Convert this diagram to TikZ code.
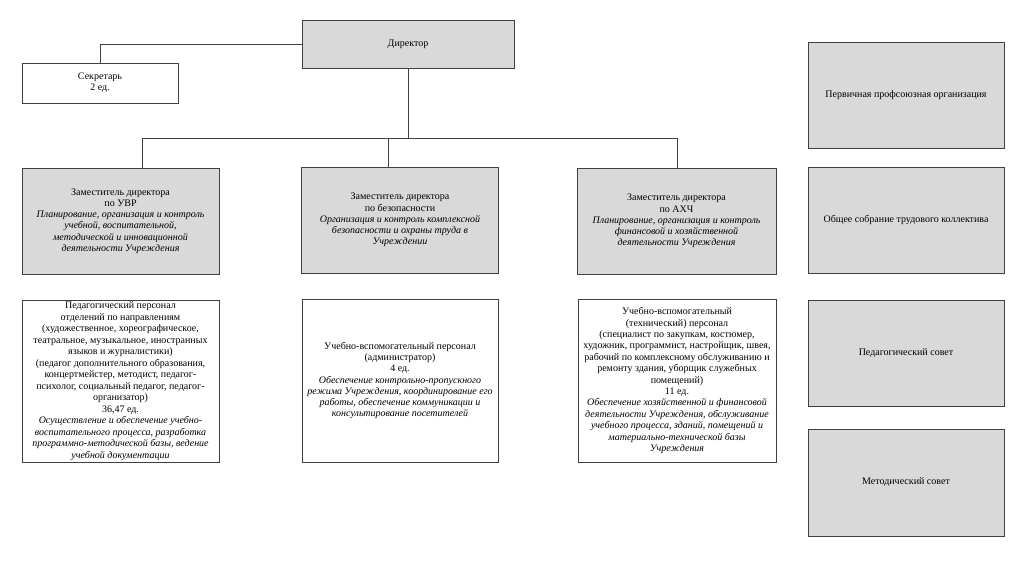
\documentclass[tikz,border=0pt]{standalone}
\usepackage{fontspec}
\setmainfont{Liberation Serif}
\definecolor{boxgray}{HTML}{D9D9D9}
\definecolor{edge}{HTML}{404040}
\begin{document}
\begin{tikzpicture}[x=1pt,y=-1pt,
  box/.style={draw=edge,line width=0.9pt,inner sep=0pt,align=center,
    font=\fontsize{10}{11.2}\selectfont},
  graybox/.style={box,fill=boxgray},
  whitebox/.style={box,fill=white},
  link/.style={draw=edge,line width=0.9pt}]
\useasboundingbox (0,0) rectangle (1024,560);
% top
\node[graybox,minimum width=212pt,minimum height=48pt] (dir) at (408,44) {Директор};
\node[whitebox,minimum width=156pt,minimum height=40pt] (sec) at (100,83) {Секретарь\\2 ед.};
% deputies
\node[graybox,minimum width=197pt,minimum height=106pt] (d1) at (120.5,221) {Заместитель директора\\по УВР\\\textit{Планирование, организация и контроль}\\\textit{учебной, воспитательной,}\\\textit{методической и инновационной}\\\textit{деятельности Учреждения}};
\node[graybox,minimum width=197pt,minimum height=106pt] (d2) at (400,220) {Заместитель директора\\по безопасности\\\textit{Организация и контроль комплексной}\\\textit{безопасности и охраны труда в}\\\textit{Учреждении}};
\node[graybox,minimum width=199pt,minimum height=106pt] (d3) at (676.5,221) {Заместитель директора\\по АХЧ\\\textit{Планирование, организация и контроль}\\\textit{финансовой и хозяйственной}\\\textit{деятельности Учреждения}};
% staff
\node[whitebox,minimum width=197pt,minimum height=162pt,font=\fontsize{10}{11.5}\selectfont] (s1) at (120.5,381) {Педагогический персонал\\отделений по направлениям\\(художественное, хореографическое,\\театральное, музыкальное, иностранных\\языков и журналистики)\\(педагог дополнительного образования,\\концертмейстер, методист, педагог-\\психолог, социальный педагог, педагог-\\организатор)\\36,47 ед.\\\textit{Осуществление и обеспечение учебно-}\\\textit{воспитательного процесса, разработка}\\\textit{программно-методической базы, ведение}\\\textit{учебной документации}};
\node[whitebox,minimum width=196pt,minimum height=163pt] (s2) at (400,380.5) {Учебно-вспомогательный персонал\\(администратор)\\4 ед.\\\textit{Обеспечение контрольно-пропускного}\\\textit{режима Учреждения, координирование его}\\\textit{работы, обеспечение коммуникации и}\\\textit{консультирование посетителей}};
\node[whitebox,minimum width=198pt,minimum height=163pt,font=\fontsize{10}{11.4}\selectfont] (s3) at (677,380.5) {Учебно-вспомогательный\\(технический) персонал\\(специалист по закупкам, костюмер,\\художник, программист, настройщик, швея,\\рабочий по комплексному обслуживанию и\\ремонту здания, уборщик служебных\\помещений)\\11 ед.\\\textit{Обеспечение хозяйственной и финансовой}\\\textit{деятельности Учреждения, обслуживание}\\\textit{учебного процесса, зданий, помещений и}\\\textit{материально-технической базы}\\\textit{Учреждения}};
% right column
\node[graybox,minimum width=196pt,minimum height=106pt] (r1) at (906,95) {Первичная профсоюзная организация};
\node[graybox,minimum width=196pt,minimum height=106pt] (r2) at (906,220) {Общее собрание трудового коллектива};
\node[graybox,minimum width=196pt,minimum height=106pt] (r3) at (906,353) {Педагогический совет};
\node[graybox,minimum width=196pt,minimum height=107pt] (r4) at (906,482.5) {Методический совет};
% connectors
\coordinate (b1) at (142,138);
\coordinate (b2) at (388,138);
\coordinate (b3) at (677,138);
\draw[link] (dir.west) -| (sec.north);
\draw[link] (dir.south) -- (dir.south |- b1);
\draw[link] (b1) -- (b3);
\draw[link] (b1) -- (b1 |- d1.north);
\draw[link] (b2) -- (b2 |- d2.north);
\draw[link] (b3) -- (b3 |- d3.north);
\end{tikzpicture}
\end{document}
